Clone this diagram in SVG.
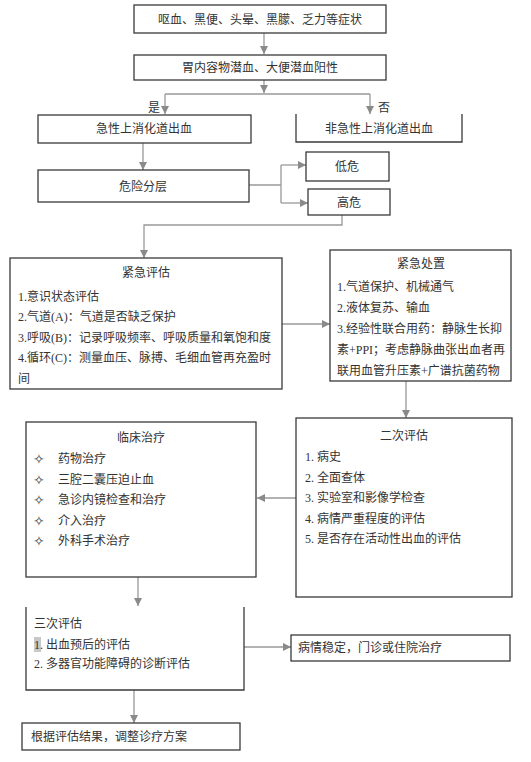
<svg xmlns="http://www.w3.org/2000/svg" width="531" height="762" viewBox="0 0 531 762">
<defs>
<marker id="ah" markerUnits="userSpaceOnUse" markerWidth="8" markerHeight="8" refX="8" refY="4" orient="auto">
<path d="M0,0 L8,4 L0,8 z" fill="#8a8a8a"/>
</marker>
<style>
.box{fill:#fff;stroke:#3a3a3a;stroke-width:1.3}
.t{font-family:"Liberation Serif","Noto Sans CJK SC",serif;font-size:12px;fill:#333}
.c{text-anchor:middle}
.ln{fill:none;stroke:#999;stroke-width:1.3}
.ar{marker-end:url(#ah)}
.sym{font-family:"DejaVu Sans",sans-serif;font-size:14px;fill:#444}
</style>
</defs>
<rect width="531" height="762" fill="#fff"/>
<g id="connectors">
<path class="ln ar" d="M264,33 V54"/>
<path class="ln ar" d="M264,80 V93"/>
<path class="ln" d="M165,94 H370"/>
<path class="ln ar" d="M165,94 V114"/>
<path class="ln ar" d="M370,94 V114"/>
<path class="ln ar" d="M143,143 V170"/>
<path class="ln" d="M249,185 H281 M281,165 V203"/>
<path class="ln ar" d="M281,165 H306"/>
<path class="ln ar" d="M281,203 H308"/>
<path class="ln ar" d="M342,215 V225 H144 V258"/>
<path class="ln ar" d="M282,324 H330"/>
<path class="ln ar" d="M406,381 V418"/>
<path class="ln ar" d="M296,498 H257"/>
<path class="ln ar" d="M138,577 V606"/>
<path class="ln ar" d="M244,647 H291"/>
<path class="ln ar" d="M134,690 V723"/>
</g>
<g id="labels">
<text class="t" x="148" y="112">是</text>
<text class="t" x="378" y="112">否</text>
</g>
<g id="n1"><rect class="box" x="134" y="5" width="252" height="28"/><text class="t c" x="260" y="23.5">呕血、黑便、头晕、黑朦、乏力等症状</text></g>
<g id="n2"><rect class="box" x="134" y="55" width="252" height="25"/><text class="t c" x="260" y="72">胃内容物潜血、大便潜血阳性</text></g>
<g id="n3"><rect class="box" x="38" y="115" width="213" height="28"/><text class="t c" x="144" y="133">急性上消化道出血</text></g>
<g id="n4"><path class="box" d="M296,114 V142 H462 V114"/><text class="t c" x="379" y="133">非急性上消化道出血</text></g>
<g id="n5"><rect class="box" x="38" y="170" width="211" height="32"/><text class="t c" x="143" y="191">危险分层</text></g>
<g id="n6"><rect class="box" x="306" y="152" width="83" height="29"/><text class="t c" x="347" y="171">低危</text></g>
<g id="n7"><rect class="box" x="308" y="189" width="82" height="26"/><text class="t c" x="349" y="207">高危</text></g>
<g id="n8"><rect class="box" x="10" y="258" width="272" height="131"/>
<text class="t c" x="146" y="277">紧急评估</text>
<text class="t" x="18" y="301">1.意识状态评估</text>
<text class="t" x="18" y="321">2.气道(A)：气道是否缺乏保护</text>
<text class="t" x="18" y="342">3.呼吸(B)：记录呼吸频率、呼吸质量和氧饱和度</text>
<text class="t" x="18" y="362">4.循环(C)：测量血压、脉搏、毛细血管再充盈时</text>
<text class="t" x="18" y="383">间</text>
</g>
<g id="n9"><rect class="box" x="330" y="250" width="181" height="131"/>
<text class="t c" x="421" y="268">紧急处置</text>
<text class="t" x="337" y="291">1.气道保护、机械通气</text>
<text class="t" x="337" y="312">2.液体复苏、输血</text>
<text class="t" x="337" y="333">3.经验性联合用药：静脉生长抑</text>
<text class="t" x="337" y="354">素+PPI；考虑静脉曲张出血者再</text>
<text class="t" x="337" y="375">联用血管升压素+广谱抗菌药物</text>
</g>
<g id="n10"><rect class="box" x="296" y="418" width="216" height="179"/>
<text class="t c" x="404" y="440">二次评估</text>
<text class="t" x="305" y="461">1. 病史</text>
<text class="t" x="305" y="482">2. 全面查体</text>
<text class="t" x="305" y="502">3. 实验室和影像学检查</text>
<text class="t" x="305" y="523">4. 病情严重程度的评估</text>
<text class="t" x="305" y="543">5. 是否存在活动性出血的评估</text>
</g>
<g id="n11"><rect class="box" x="26" y="422" width="230" height="155"/>
<text class="t c" x="141" y="442">临床治疗</text>
<text class="sym" x="33" y="464">✧</text><text class="t" x="58" y="463">药物治疗</text>
<text class="sym" x="33" y="485">✧</text><text class="t" x="58" y="484">三腔二囊压迫止血</text>
<text class="sym" x="33" y="505">✧</text><text class="t" x="58" y="504">急诊内镜检查和治疗</text>
<text class="sym" x="33" y="526">✧</text><text class="t" x="58" y="525">介入治疗</text>
<text class="sym" x="33" y="546">✧</text><text class="t" x="58" y="545">外科手术治疗</text>
</g>
<g id="n12"><path class="box" d="M26,607 V690 H244 V607"/>
<rect x="34" y="637" width="7" height="15" fill="#c8c8c8"/>
<text class="t" x="34" y="628">三次评估</text>
<text class="t" x="34" y="649">1. 出血预后的评估</text>
<text class="t" x="34" y="668">2. 多器官功能障碍的诊断评估</text>
</g>
<g id="n13"><rect class="box" x="291" y="635" width="219" height="26"/><text class="t" x="298" y="652">病情稳定，门诊或住院治疗</text></g>
<g id="n14"><rect class="box" x="22" y="723" width="218" height="27"/><text class="t" x="31" y="741">根据评估结果，调整诊疗方案</text></g>
</svg>
